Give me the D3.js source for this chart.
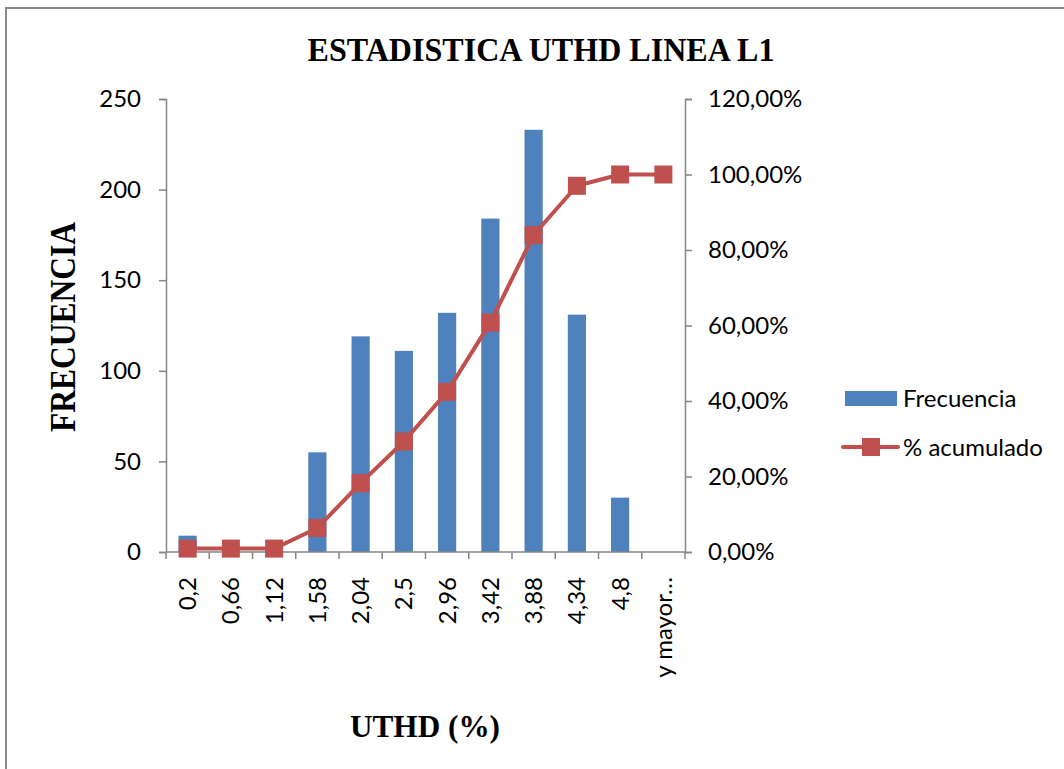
<!DOCTYPE html>
<html>
<head>
<meta charset="utf-8">
<script src="https://cdn.jsdelivr.net/npm/d3@7"></script>
<style>
  html, body { margin: 0; padding: 0; background: #fff; }
  svg { display: block; }
</style>
</head>
<body>
<svg id="chart" width="1064" height="769"></svg>
<script>
// Histogram bins (upper class limits) of UTHD
const categories = ["0,2", "0,66", "1,12", "1,58", "2,04", "2,5", "2,96", "3,42", "3,88", "4,34", "4,8", "y mayor..."];
// Frequency per bin
const frecuencia = [9, 0, 0, 55, 119, 111, 132, 184, 233, 131, 30, 0];
// Cumulative percentage per bin
const acumulado = [0.90, 0.90, 0.90, 6.37, 18.23, 29.28, 42.43, 60.76, 83.96, 97.01, 100, 100];
// Axis ticks
const leftTicks = [0, 50, 100, 150, 200, 250];
const rightTicks = [0, 20, 40, 60, 80, 100, 120];

const svg = d3.select("#chart");
const W = 1064, H = 769;
const plot = { left: 166, right: 685, top: 99, bottom: 552 };
const sansFont = "Lato, 'Open Sans', sans-serif";
const serifFont = "'Liberation Serif', 'DejaVu Serif', serif";
const labelSize = "24px";
const axisColor = "#868686";
const barColor = "#4F81BD";
const lineColor = "#C0504D";

// chart area frame
svg.append("rect")
  .attr("x", 6).attr("y", 8)
  .attr("width", W + 20).attr("height", H + 20)
  .attr("fill", "#fff")
  .attr("stroke", "#8c8c8c").attr("stroke-width", 2);

const x = d3.scaleBand().domain(categories).range([plot.left, plot.right]).paddingInner(0.58).paddingOuter(0.29);
const xEdges = d3.scaleBand().domain(categories).range([plot.left, plot.right]);
const yL = d3.scaleLinear().domain([0, 250]).range([plot.bottom, plot.top]);
const yR = d3.scaleLinear().domain([0, 120]).range([plot.bottom, plot.top]);

// bars
svg.append("g").selectAll("rect")
  .data(frecuencia.map((v, i) => ({ c: categories[i], v })))
  .join("rect")
  .attr("x", d => x(d.c))
  .attr("y", d => yL(d.v))
  .attr("width", x.bandwidth())
  .attr("height", d => plot.bottom - yL(d.v))
  .attr("fill", barColor);

function styleAxis(g) {
  g.selectAll("path, line").attr("stroke", axisColor).attr("stroke-width", 1.5);
  g.selectAll("text").attr("fill", "#000").style("font-family", sansFont).style("font-size", labelSize);
}

// left axis
svg.append("g")
  .attr("transform", `translate(${plot.left},0)`)
  .call(d3.axisLeft(yL).tickValues(leftTicks).tickSize(7).tickSizeOuter(7).tickPadding(18).tickFormat(d3.format("d")))
  .call(styleAxis);

// right axis
svg.append("g")
  .attr("transform", `translate(${plot.right},0)`)
  .call(d3.axisRight(yR).tickValues(rightTicks).tickSize(7).tickSizeOuter(7).tickPadding(16)
    .tickFormat(d => d.toFixed(2).replace(".", ",") + "%"))
  .call(styleAxis);

// category axis with ticks at bin boundaries
const xAxisG = svg.append("g").attr("transform", `translate(0,${plot.bottom})`);
xAxisG.append("line")
  .attr("x1", plot.left).attr("x2", plot.right)
  .attr("stroke", axisColor).attr("stroke-width", 1.5);
xAxisG.selectAll("line.tick")
  .data(categories.concat(["__end"]))
  .join("line")
  .attr("class", "tick")
  .attr("x1", (d, i) => i < categories.length ? xEdges(d) : plot.right)
  .attr("x2", (d, i) => i < categories.length ? xEdges(d) : plot.right)
  .attr("y1", 0).attr("y2", 7)
  .attr("stroke", axisColor).attr("stroke-width", 1.5);
xAxisG.selectAll("text")
  .data(categories)
  .join("text")
  .attr("transform", d => `translate(${xEdges(d) + xEdges.bandwidth() / 2},25) rotate(-90)`)
  .attr("text-anchor", "end")
  .attr("dy", "0.35em")
  .style("font-family", sansFont).style("font-size", labelSize)
  .text(d => d.replace("...", "\u2026"));

// cumulative line
const line = d3.line()
  .x((d, i) => xEdges(categories[i]) + xEdges.bandwidth() / 2)
  .y(d => yR(d));
svg.append("path")
  .datum(acumulado)
  .attr("d", line)
  .attr("fill", "none")
  .attr("stroke", lineColor)
  .attr("stroke-width", 4)
  .attr("stroke-linejoin", "round");
const mk = 18;
svg.append("g").selectAll("rect")
  .data(acumulado)
  .join("rect")
  .attr("x", (d, i) => xEdges(categories[i]) + xEdges.bandwidth() / 2 - mk / 2)
  .attr("y", d => yR(d) - mk / 2)
  .attr("width", mk).attr("height", mk)
  .attr("fill", lineColor);

// titles
svg.append("text")
  .attr("x", 541).attr("y", 61)
  .attr("text-anchor", "middle")
  .attr("textLength", 467).attr("lengthAdjust", "spacingAndGlyphs")
  .style("font-family", serifFont).style("font-size", "34px").style("font-weight", "bold")
  .text("ESTADISTICA UTHD LINEA L1");

svg.append("text")
  .attr("transform", "translate(75,327) rotate(-90)")
  .attr("text-anchor", "middle")
  .attr("textLength", 210).attr("lengthAdjust", "spacingAndGlyphs")
  .style("font-family", serifFont).style("font-size", "36px").style("font-weight", "bold")
  .text("FRECUENCIA");

svg.append("text")
  .attr("x", 425).attr("y", 737)
  .attr("text-anchor", "middle")
  .attr("textLength", 150).attr("lengthAdjust", "spacingAndGlyphs")
  .style("font-family", serifFont).style("font-size", "32px").style("font-weight", "bold")
  .text("UTHD (%)");

// legend
const legend = svg.append("g");
legend.append("rect")
  .attr("x", 845).attr("y", 391).attr("width", 52).attr("height", 15)
  .attr("fill", barColor);
legend.append("text")
  .attr("x", 903).attr("y", 407)
  .style("font-family", sansFont).style("font-size", labelSize)
  .text("Frecuencia");
legend.append("line")
  .attr("x1", 843).attr("x2", 898).attr("y1", 447).attr("y2", 447)
  .attr("stroke", lineColor).attr("stroke-width", 4).attr("stroke-linecap", "round");
legend.append("rect")
  .attr("x", 862).attr("y", 438).attr("width", 18).attr("height", 18)
  .attr("fill", lineColor);
legend.append("text")
  .attr("x", 903).attr("y", 456)
  .style("font-family", sansFont).style("font-size", labelSize)
  .text("% acumulado");
</script>
</body>
</html>
